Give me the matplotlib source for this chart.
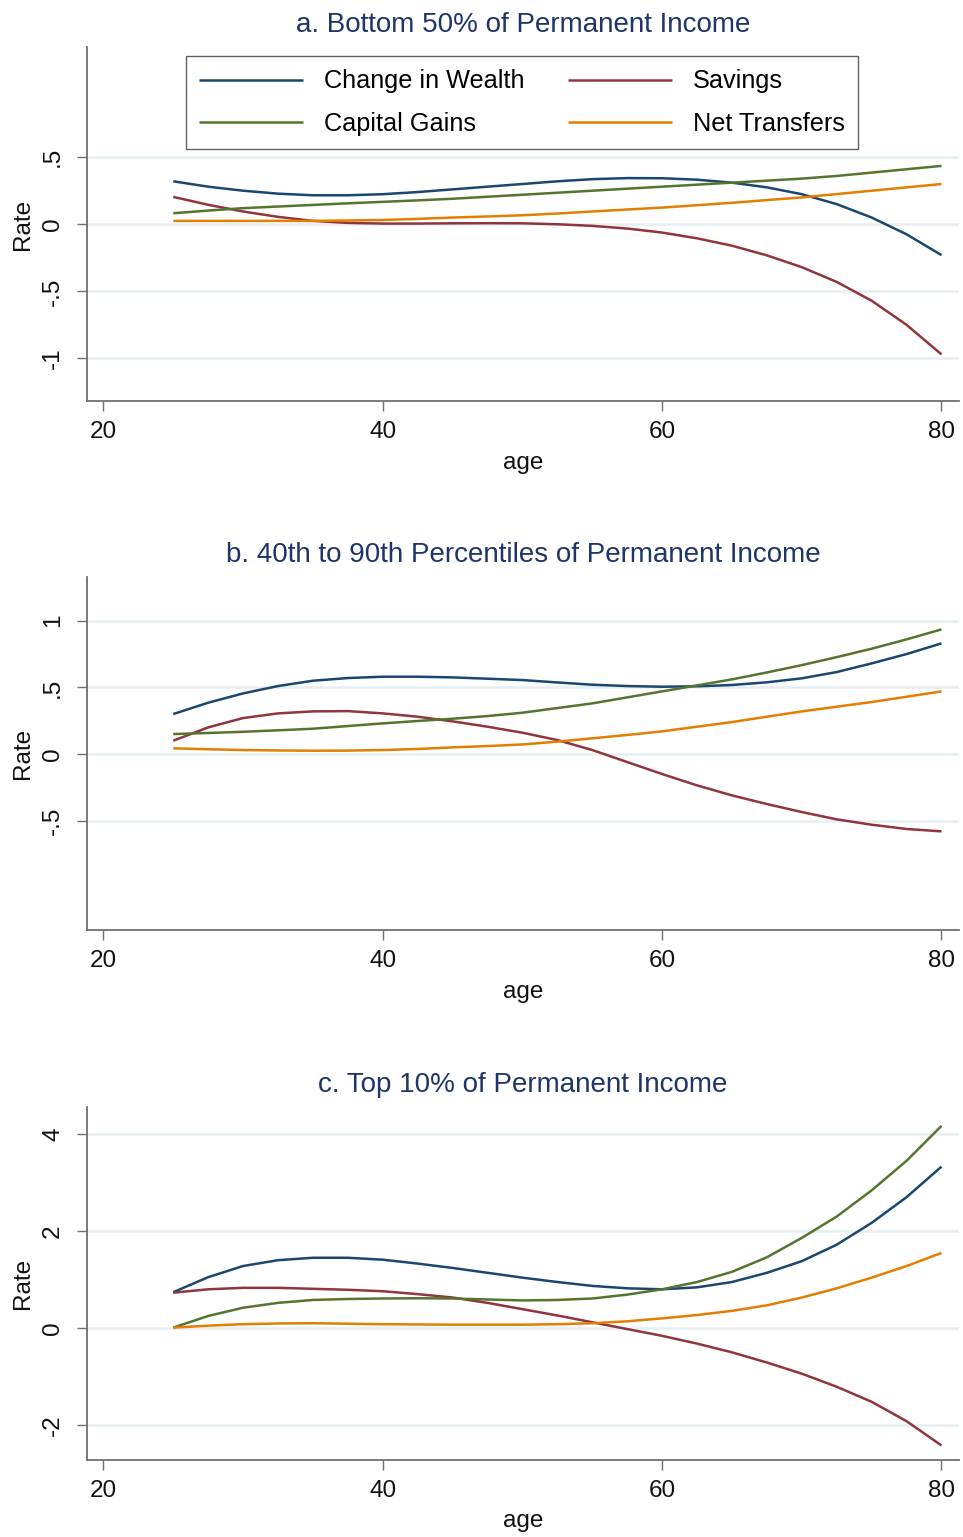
import matplotlib
matplotlib.use("Agg")
import matplotlib.pyplot as plt
from matplotlib.ticker import FuncFormatter, FixedLocator

plt.rcParams['font.family'] = ['Liberation Sans', 'DejaVu Sans']

# ---------------- data ----------------
ages = [25, 27.5, 30, 32.5, 35, 37.5, 40, 42.5, 45, 47.5, 50, 52.5,
        55, 57.5, 60, 62.5, 65, 67.5, 70, 72.5, 75, 77.5, 80]

series_names = ["Change in Wealth", "Savings", "Capital Gains", "Net Transfers"]

# Panel a: Bottom 50%
a_wealth = [0.32, 0.28, 0.25, 0.228, 0.216, 0.216, 0.224, 0.24, 0.26, 0.28, 0.30, 0.32,
            0.336, 0.344, 0.343, 0.332, 0.31, 0.275, 0.224, 0.15, 0.05, -0.075, -0.23]
a_savings = [0.204, 0.145, 0.095, 0.055, 0.025, 0.01, 0.005, 0.005, 0.007, 0.008, 0.007, 0.0,
             -0.012, -0.032, -0.062, -0.105, -0.16, -0.232, -0.32, -0.43, -0.57, -0.75, -0.97]
a_gains = [0.082, 0.102, 0.12, 0.132, 0.144, 0.156, 0.167, 0.178, 0.19, 0.205, 0.22, 0.235,
           0.25, 0.265, 0.28, 0.295, 0.31, 0.325, 0.34, 0.36, 0.385, 0.41, 0.435]
a_transfers = [0.025, 0.025, 0.025, 0.025, 0.025, 0.028, 0.032, 0.04, 0.05, 0.058, 0.067, 0.08,
               0.095, 0.11, 0.124, 0.142, 0.16, 0.18, 0.2, 0.225, 0.25, 0.275, 0.30]

# Panel b: 40th to 90th percentiles
b_wealth = [0.30, 0.385, 0.455, 0.51, 0.55, 0.57, 0.58, 0.58, 0.575, 0.565, 0.555, 0.537,
            0.52, 0.51, 0.505, 0.508, 0.518, 0.538, 0.568, 0.615, 0.68, 0.75, 0.83]
b_savings = [0.10, 0.20, 0.27, 0.305, 0.32, 0.322, 0.305, 0.28, 0.245, 0.205, 0.16, 0.105,
             0.03, -0.06, -0.15, -0.235, -0.31, -0.375, -0.435, -0.49, -0.53, -0.562, -0.58]
b_gains = [0.15, 0.158, 0.167, 0.178, 0.19, 0.21, 0.23, 0.248, 0.265, 0.285, 0.31, 0.345,
           0.38, 0.425, 0.47, 0.515, 0.56, 0.612, 0.667, 0.727, 0.79, 0.86, 0.935]
b_transfers = [0.043, 0.036, 0.03, 0.027, 0.025, 0.026, 0.03, 0.038, 0.05, 0.06, 0.072, 0.093,
               0.118, 0.143, 0.17, 0.205, 0.24, 0.28, 0.32, 0.355, 0.39, 0.43, 0.47]

# Panel c: Top 10%
c_wealth = [0.74, 1.05, 1.28, 1.40, 1.45, 1.45, 1.41, 1.33, 1.24, 1.14, 1.04, 0.95,
            0.87, 0.82, 0.80, 0.84, 0.95, 1.14, 1.38, 1.72, 2.17, 2.70, 3.33]
c_savings = [0.73, 0.80, 0.83, 0.83, 0.81, 0.79, 0.76, 0.70, 0.63, 0.52, 0.39, 0.26,
             0.12, -0.02, -0.16, -0.32, -0.50, -0.71, -0.94, -1.21, -1.52, -1.92, -2.42]
c_gains = [0.01, 0.25, 0.42, 0.52, 0.58, 0.60, 0.61, 0.615, 0.61, 0.59, 0.57, 0.58,
           0.61, 0.69, 0.80, 0.95, 1.16, 1.46, 1.86, 2.30, 2.84, 3.45, 4.17]
c_transfers = [0.01, 0.05, 0.08, 0.095, 0.10, 0.09, 0.08, 0.075, 0.07, 0.07, 0.07, 0.08,
               0.10, 0.14, 0.20, 0.27, 0.355, 0.47, 0.63, 0.82, 1.04, 1.28, 1.55]

titles = ["a. Bottom 50% of Permanent Income",
          "b. 40th to 90th Percentiles of Permanent Income",
          "c. Top 10% of Permanent Income"]
x_ticks = [20, 40, 60, 80]
y_ticks_a = [-1, -0.5, 0, 0.5]
y_ticks_b = [-0.5, 0, 0.5, 1]
y_ticks_c = [-2, 0, 2, 4]

# ---------------- style ----------------
colors = ["#1a476f", "#90353b", "#55752f", "#e37e00"]
title_color = "#1f3566"
axis_color = "#707070"
grid_color = "#e6eef1"
FS = 17.5
LEG_FS = 18.2

panels = [
    dict(ys=[a_wealth, a_savings, a_gains, a_transfers], yt=y_ticks_a,
         ylim=(-1.321, 1.321), rect=[0.0900, 0.7388, 0.9058, 0.2306]),
    dict(ys=[b_wealth, b_savings, b_gains, b_transfers], yt=y_ticks_b,
         ylim=(-1.320, 1.328), rect=[0.0900, 0.3949, 0.9058, 0.2297]),
    dict(ys=[c_wealth, c_savings, c_gains, c_transfers], yt=y_ticks_c,
         ylim=(-2.72, 4.56), rect=[0.0900, 0.0501, 0.9058, 0.2297]),
]


def stata_fmt(v, pos):
    s = ("%g" % v)
    if s.startswith("0."):
        s = s[1:]
    elif s.startswith("-0."):
        s = "-" + s[2:]
    return s


fig = plt.figure(figsize=(9.63, 15.37), dpi=100)
fig.patch.set_facecolor("white")

for i, p in enumerate(panels):
    ax = fig.add_axes(p["rect"])
    handles = []
    for ys, col, name in zip(p["ys"], colors, series_names):
        h, = ax.plot(ages, ys, color=col, lw=1.8, label=name, zorder=3,
                     solid_joinstyle="round", solid_capstyle="butt")
        handles.append(h)
    ax.set_xlim(18.80, 81.25)
    ax.set_ylim(*p["ylim"])
    ax.xaxis.set_major_locator(FixedLocator(x_ticks))
    ax.yaxis.set_major_locator(FixedLocator(p["yt"]))
    ax.yaxis.set_major_formatter(FuncFormatter(stata_fmt))
    ax.xaxis.set_major_formatter(FuncFormatter(lambda v, pos: "%d" % v))
    for yv in p["yt"]:
        ax.axhline(yv, color=grid_color, lw=1.8, zorder=1)
    for s in ["top", "right"]:
        ax.spines[s].set_visible(False)
    for s in ["left", "bottom"]:
        ax.spines[s].set_color(axis_color)
        ax.spines[s].set_linewidth(1.3)
    ax.tick_params(axis="both", direction="out", length=7.2, width=1.0,
                   color=axis_color, labelsize=FS, labelcolor="#111111")
    ax.tick_params(axis="x", pad=7.0)
    ax.tick_params(axis="y", pad=9.0, labelrotation=90)
    for lab in ax.get_yticklabels():
        lab.set_verticalalignment("center")
    ax.set_xlabel("age", fontsize=FS, color="#111111")
    ax.xaxis.set_label_coords(0.5, -0.143)
    ax.set_ylabel("Rate", fontsize=FS, color="#111111")
    ax.yaxis.set_label_coords(-0.060, 0.5)
    ax.set_title(titles[i], fontsize=20, color=title_color, pad=10.8)

    if i == 0:
        # matplotlib fills legend columns first; this order gives rows
        # (Change in Wealth, Savings) / (Capital Gains, Net Transfers)
        order = [0, 2, 1, 3]
        leg = ax.legend([handles[k] for k in order],
                        [series_names[k] for k in order],
                        ncol=2, loc="center", bbox_to_anchor=(0.499, 0.8434),
                        fontsize=LEG_FS, frameon=True, fancybox=False,
                        handlelength=4.1, handletextpad=0.83, columnspacing=1.75,
                        borderpad=0.53, labelspacing=0.72, borderaxespad=0)
        leg.get_frame().set_edgecolor("#3a3a3a")
        leg.get_frame().set_linewidth(1.0)

fig.savefig("out.png", dpi=100, facecolor="white")
